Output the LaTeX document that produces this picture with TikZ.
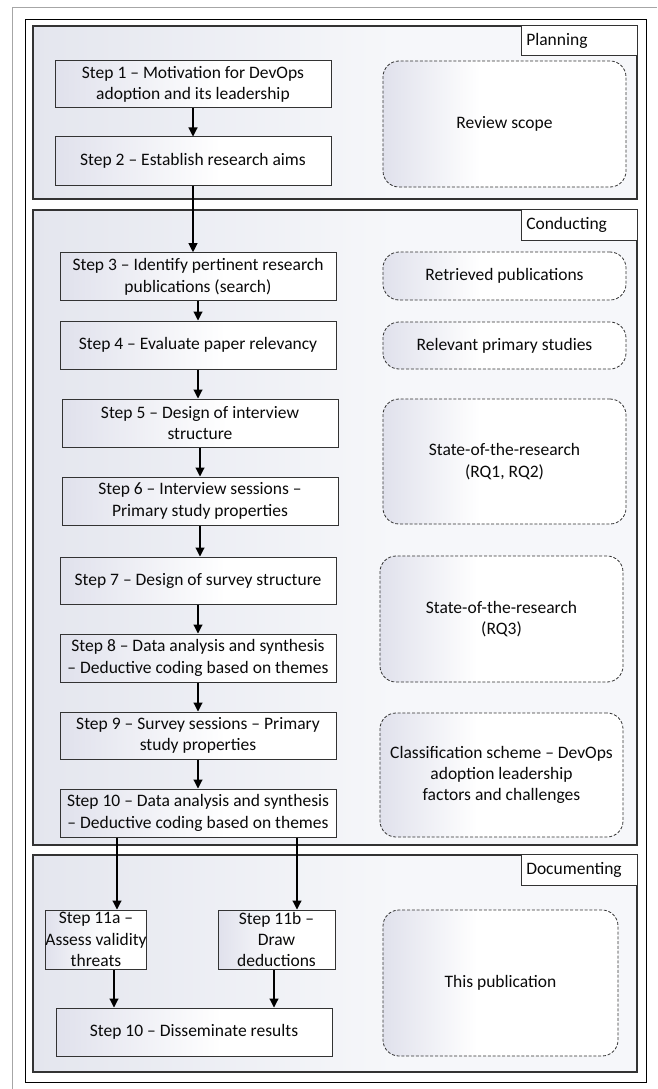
\documentclass[tikz,border=0pt]{standalone}
\usepackage{fontspec}
\setmainfont{Carlito}
\usetikzlibrary{arrows.meta}
\definecolor{panc}{HTML}{E4E6EE}
\definecolor{pane}{HTML}{F6F7FA}
\definecolor{boxc}{HTML}{E0E1EC}
\definecolor{linec}{HTML}{333333}
\definecolor{txtc}{HTML}{0A0A0A}
\pgfdeclarehorizontalshading{panfade}{100bp}{color(0bp)=(panc); color(25bp)=(panc); color(55bp)=(pane); color(100bp)=(pane)}
\pgfdeclarehorizontalshading{boxfade}{100bp}{color(0bp)=(boxc); color(25bp)=(boxc); color(55bp)=(white); color(100bp)=(white)}
\pgfdeclarehorizontalshading{outfade}{100bp}{color(0bp)=(boxc); color(25bp)=(boxc); color(45bp)=(white); color(100bp)=(white)}
\newcommand{\stepfont}{\fontsize{17.5}{21.3}\selectfont}
\tikzset{
  panel/.style={draw=linec, line width=1.3pt, shading=panfade, shading angle=0, inner sep=0pt},
  labbox/.style={draw=linec, line width=0.8pt, fill=white, inner sep=0pt, inner xsep=5pt, text width=106pt, align=left, minimum height=30pt, anchor=north east, font=\stepfont, text=txtc},
  stepbox/.style={draw=linec, line width=1pt, shading=boxfade, shading angle=0, align=center, inner sep=0pt, font=\stepfont, text=txtc, minimum width=276pt, minimum height=48pt},
  outbox/.style={draw=linec, line width=0.8pt, dash pattern=on 3pt off 1.8pt, rounded corners=16pt, shading=outfade, shading angle=0, align=center, inner sep=0pt, font=\stepfont, text=txtc, minimum width=243pt},
  arr/.style={draw=black, line width=1.1pt, -{Triangle[length=9pt,width=9pt]}}
}
\begin{document}
\begin{tikzpicture}[x=1pt,y=-1pt]
\useasboundingbox (0,0) rectangle (657,1089);
\fill[white] (0,0) rectangle (657,1089);
\draw[gray!70, line width=0.8pt] (657,7) -- (12,7) -- (12,1089);
\draw[black, line width=0.9pt] (25,19) rectangle (646,1082);

% panels
\node[panel, minimum width=604pt, minimum height=173pt] (pp) at (335,112.5) {};
\node[labbox] (lp) at (pp.north east) {Planning};
\node[panel, minimum width=604pt, minimum height=635pt] (pc) at (335,527.5) {};
\node[labbox, minimum height=31pt] (lc) at (pc.north east) {Conducting};
\node[panel, minimum width=604pt, minimum height=217pt] (pd) at (335,963.5) {};
\node[labbox, minimum height=31pt] (ld) at (pd.north east) {Documenting};

% steps
\node[stepbox, minimum height=47pt] (s1) at (193,84.5) {Step 1 -- Motivation for DevOps\\adoption and its leadership};
\node[stepbox] (s2) at (193,161) {Step 2 -- Establish research aims};
\node[stepbox] (s3) at (198,276.7) {Step 3 -- Identify pertinent research\\publications (search)};
\node[stepbox] (s4) at (198,345) {Step 4 -- Evaluate paper relevancy};
\node[stepbox] (s5) at (200,423) {Step 5 -- Design of interview\\structure};
\node[stepbox] (s6) at (200,501) {Step 6 -- Interview sessions --\\Primary study properties};
\node[stepbox, minimum height=47pt] (s7) at (198,580.5) {Step 7 -- Design of survey structure};
\node[stepbox] (s8) at (198,658) {Step 8 -- Data analysis and synthesis\\-- Deductive coding based on themes};
\node[stepbox, minimum height=47pt] (s9) at (198,735.5) {Step 9 -- Survey sessions -- Primary\\study properties};
\node[stepbox] (s10) at (198,813) {Step 10 -- Data analysis and synthesis\\-- Deductive coding based on themes};
\node[stepbox, minimum width=82pt, minimum height=59pt] (s11a) at (96,939.5) {Step 11a --\\Assess validity\\threats};
\node[stepbox, minimum width=117pt, minimum height=59pt] (s11b) at (276.5,939.5) {Step 11b --\\Draw\\deductions};
\node[stepbox] (s12) at (194,1032) {Step 10 -- Disseminate results};

% outputs
\node[outbox, minimum height=126pt] (o1) at (504.5,124) {Review scope};
\node[outbox, minimum height=48pt] (o2) at (504.5,276) {Retrieved publications};
\node[outbox, minimum height=47pt] (o3) at (504.5,345.5) {Relevant primary studies};
\node[outbox, minimum height=125pt] (o4) at (504.5,461.5) {State-of-the-research\\(RQ1, RQ2)};
\node[outbox, minimum height=126pt] (o5) at (501.5,619) {State-of-the-research\\(RQ3)};
\node[outbox, minimum height=124pt] (o6) at (501.5,775) {Classification scheme -- DevOps\\adoption leadership\\factors and challenges};
\node[outbox, minimum width=235pt, minimum height=146pt] (o7) at (500.5,983) {This publication};

% arrows
\coordinate (xa) at (117,0);
\coordinate (xb) at (297,0);
\coordinate (xc) at (114,0);
\coordinate (xd) at (274,0);
\draw[arr] (s1.south) -- (s2.north);
\draw[arr] (s2.south) -- (s2.south |- s3.north);
\draw[arr] (s3.south) -- (s4.north);
\draw[arr] (s4.south) -- (s4.south |- s5.north);
\draw[arr] (s5.south) -- (s6.north);
\draw[arr] (s6.south) -- (s6.south |- s7.north);
\draw[arr] (s7.south) -- (s8.north);
\draw[arr] (s8.south) -- (s9.north);
\draw[arr] (s9.south) -- (s10.north);
\draw[arr] (s10.south -| xa) -- (s11a.north -| xa);
\draw[arr] (s10.south -| xb) -- (s11b.north -| xb);
\draw[arr] (s11a.south -| xc) -- (s12.north -| xc);
\draw[arr] (s11b.south -| xd) -- (s12.north -| xd);
\end{tikzpicture}
\end{document}
